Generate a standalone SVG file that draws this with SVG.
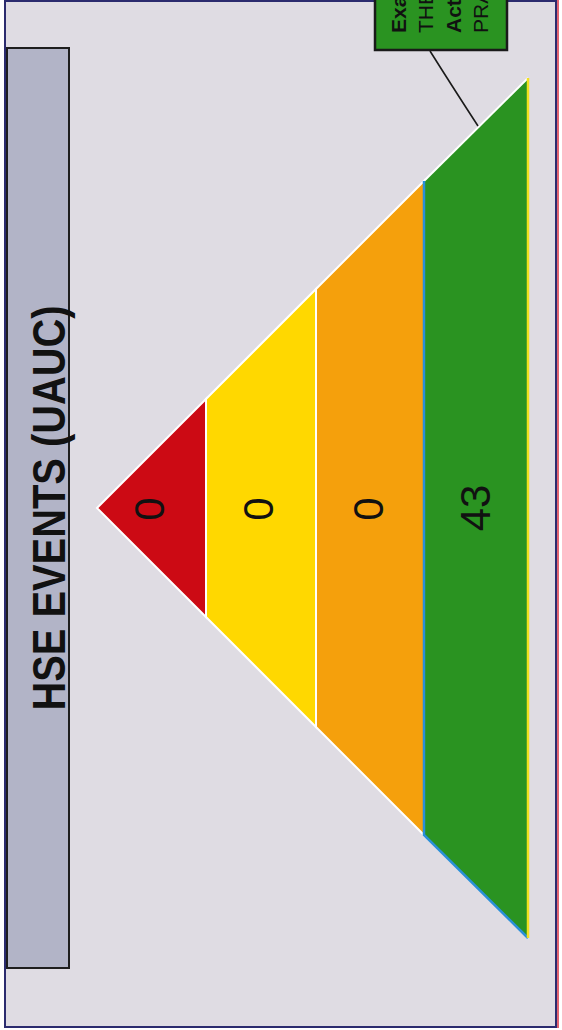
<svg xmlns="http://www.w3.org/2000/svg" width="562" height="1030" viewBox="0 0 562 1030">
  <style>
    .num { font-family: "Liberation Sans", Arial, sans-serif; font-size: 42px; fill: #111; text-anchor: middle; }
    .note { font-family: "Liberation Sans", Arial, sans-serif; font-size: 21px; fill: #111; }
    .layer { stroke: #ffffff; stroke-width: 2; stroke-linejoin: miter; }
  </style>
  <rect x="0" y="0" width="562" height="1030" fill="#ffffff"/>
  <rect id="frame" x="5" y="1" width="551" height="1026" fill="#dfdce3" stroke="#2b2b6e" stroke-width="2"/>
  <line x1="558" y1="0" x2="558" y2="1028" stroke="#d83040" stroke-width="1.5"/>

  <g id="title">
    <rect x="7" y="48" width="62" height="920" fill="#b2b4c7" stroke="#1e1e1e" stroke-width="2"/>
    <text transform="translate(65,508) rotate(-90)" x="0" y="0" text-anchor="middle" font-family="'Liberation Sans', Arial, sans-serif" font-weight="bold" font-size="46" fill="#111" textLength="405" lengthAdjust="spacingAndGlyphs">HSE EVENTS (UAUC)</text>
  </g>

  <g id="layer-red">
    <polygon class="layer" points="97,508 206,399 206,617" fill="#cc0a14"/>
    <text class="num" transform="translate(164,509) rotate(-90)">0</text>
  </g>
  <g id="layer-yellow">
    <polygon class="layer" points="206,399 316,289 316,727 206,617" fill="#ffd800"/>
    <text class="num" transform="translate(273,509) rotate(-90)">0</text>
  </g>
  <g id="layer-orange">
    <polygon class="layer" points="316,289 424,181 424,835 316,727" fill="#f5a00c"/>
    <text class="num" transform="translate(383,509) rotate(-90)">0</text>
  </g>
  <g id="layer-green">
    <polygon points="424,181 528,78 528,938 424,835" fill="#2a9321"/>
    <polyline points="424,181 528,78" fill="none" stroke="#ffffff" stroke-width="2"/>
    <polyline points="424,181 424,835 528,938" fill="none" stroke="#2a8fd8" stroke-width="2.5"/>
    <line x1="528" y1="78" x2="528" y2="938" stroke="#f2e020" stroke-width="2.5"/>
    <text class="num" transform="translate(490,508) rotate(-90)">43</text>
  </g>

  <g id="note">
    <rect x="375" y="-4" width="132" height="54" fill="#2a9321" stroke="#1a1a1a" stroke-width="2.5"/>
    <text class="note" font-weight="bold" transform="translate(406,33) rotate(-90)">Exa</text>
    <text class="note" transform="translate(433,33) rotate(-90)">THE</text>
    <text class="note" font-weight="bold" transform="translate(461,33) rotate(-90)">Act</text>
    <text class="note" transform="translate(488,33) rotate(-90)">PRA</text>
  </g>

  <g id="connectors">
    <path d="M430,51 Q452,86 478,126" fill="none" stroke="#1a1a1a" stroke-width="1.6"/>
  </g>
</svg>
